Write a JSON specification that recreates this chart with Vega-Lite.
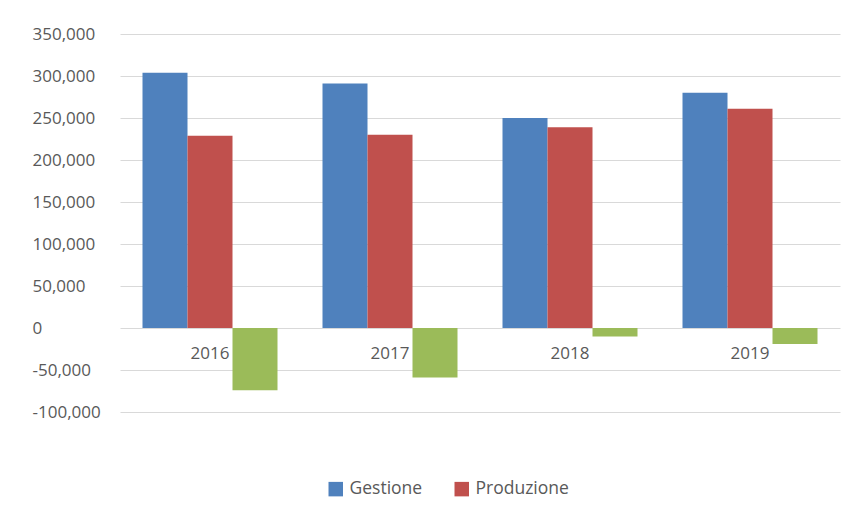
{
  "$schema": "https://vega.github.io/schema/vega-lite/v6.json",
  "width": 720,
  "height": 378,
  "autosize": {"type": "none"},
  "padding": {"left": 120, "top": 34, "right": 11, "bottom": 105},
  "background": "white",
  "config": {
    "view": {"stroke": null},
    "font": "Open Sans"
  },
  "data": {
    "values": [
      {"anno": "2016", "serie": "Gestione", "valore": 304000},
      {"anno": "2016", "serie": "Produzione", "valore": 229000},
      {"anno": "2016", "serie": "Differenza", "valore": -74000},
      {"anno": "2017", "serie": "Gestione", "valore": 291000},
      {"anno": "2017", "serie": "Produzione", "valore": 230000},
      {"anno": "2017", "serie": "Differenza", "valore": -59000},
      {"anno": "2018", "serie": "Gestione", "valore": 250000},
      {"anno": "2018", "serie": "Produzione", "valore": 239000},
      {"anno": "2018", "serie": "Differenza", "valore": -10000},
      {"anno": "2019", "serie": "Gestione", "valore": 280000},
      {"anno": "2019", "serie": "Produzione", "valore": 261000},
      {"anno": "2019", "serie": "Differenza", "valore": -19000}
    ]
  },
  "mark": {"type": "bar"},
  "encoding": {
    "x": {
      "field": "anno",
      "type": "nominal",
      "scale": {"paddingInner": 0.25, "paddingOuter": 0.125},
      "axis": {
        "title": null,
        "labelAngle": 0,
        "domain": false,
        "ticks": false,
        "offset": -84,
        "labelPadding": 17,
        "labelFontSize": 17,
        "labelColor": "#595959",
        "labelFont": "Open Sans"
      }
    },
    "xOffset": {
      "field": "serie",
      "type": "nominal",
      "sort": ["Gestione", "Produzione", "Differenza"],
      "scale": {"paddingInner": 0, "paddingOuter": 0}
    },
    "y": {
      "field": "valore",
      "type": "quantitative",
      "scale": {"domain": [-100000, 350000], "nice": false},
      "axis": {
        "title": null,
        "values": [-100000, -50000, 0, 50000, 100000, 150000, 200000, 250000, 300000, 350000],
        "labelExpr": "replace(format(datum.value, ','), '\u2212', '-')",
        "labelAlign": "left",
        "labelPadding": 88,
        "labelFontSize": 17,
        "labelColor": "#595959",
        "labelFont": "Open Sans",
        "domain": false,
        "ticks": false,
        "gridColor": "#d9d9d9",
        "gridWidth": 1
      }
    },
    "color": {
      "field": "serie",
      "type": "nominal",
      "scale": {
        "domain": ["Gestione", "Produzione", "Differenza"],
        "range": ["#4F81BD", "#C0504D", "#9BBB59"]
      },
      "legend": {
        "title": null,
        "values": ["Gestione", "Produzione"],
        "orient": "none",
        "direction": "horizontal",
        "legendX": 207,
        "legendY": 446,
        "symbolType": "square",
        "symbolSize": 210,
        "symbolStrokeWidth": 0,
        "symbolOpacity": 1,
        "labelFontSize": 17.5,
        "labelColor": "#595959",
        "labelFont": "Open Sans",
        "labelOffset": 5,
        "columnPadding": 30
      }
    }
  }
}
